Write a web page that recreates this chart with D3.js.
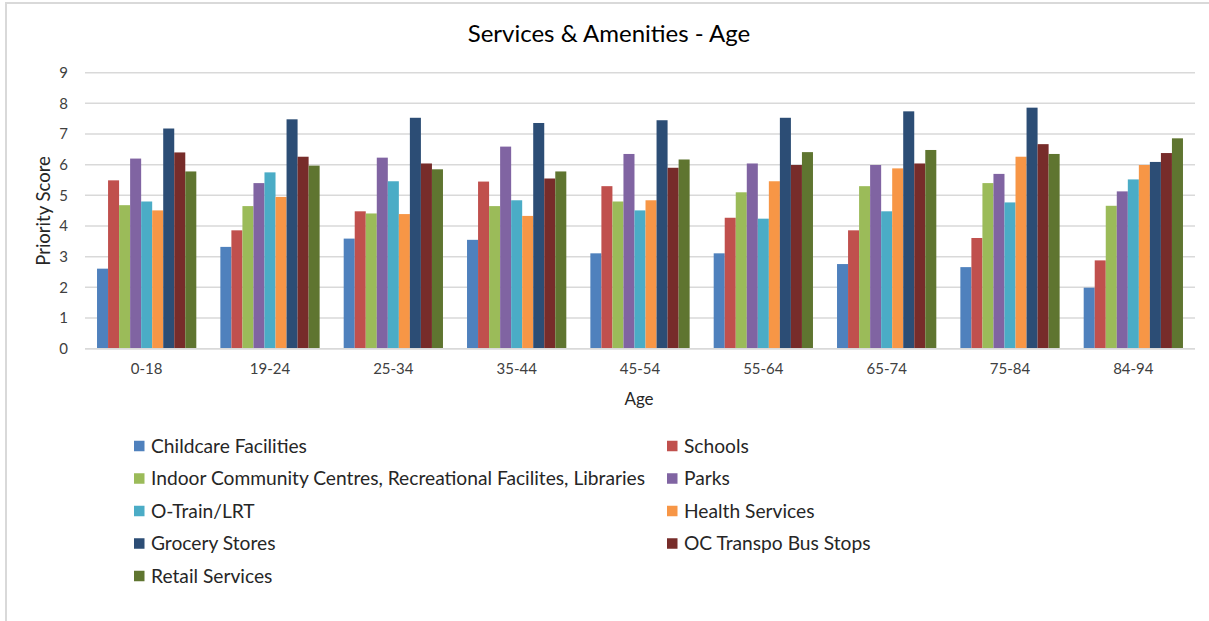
<!DOCTYPE html>
<html>
<head>
<meta charset="utf-8">
<script src="https://cdn.jsdelivr.net/npm/d3@7"></script>
<style>
  html, body { margin: 0; padding: 0; background: #fff; }
  svg { display: block; font-family: Lato, "Open Sans", sans-serif; }
</style>
</head>
<body>
<svg id="chart" width="1209" height="621"></svg>
<script>
// Age groups along the x axis
const ageGroups = ["0-18", "19-24", "25-34", "35-44", "45-54", "55-64", "65-74", "75-84", "84-94"];

// Service categories (legend order) and their colours
const services = [
  "Childcare Facilities",
  "Schools",
  "Indoor Community Centres, Recreational Facilites, Libraries",
  "Parks",
  "O-Train/LRT",
  "Health Services",
  "Grocery Stores",
  "OC Transpo Bus Stops",
  "Retail Services"
];
const colors = ["#4f81bd", "#c0504d", "#9bbb59", "#8064a2", "#4bacc6", "#f79646", "#2c4d75", "#772c2a", "#5f7530"];

// Priority score per service, one value per age group
const childcare  = [2.61, 3.32, 3.59, 3.55, 3.11, 3.11, 2.76, 2.66, 1.99];
const schools    = [5.49, 3.86, 4.48, 5.45, 5.30, 4.27, 3.86, 3.61, 2.88];
const indoor     = [4.68, 4.65, 4.41, 4.65, 4.80, 5.10, 5.30, 5.40, 4.66];
const parks      = [6.20, 5.40, 6.23, 6.59, 6.35, 6.04, 5.99, 5.70, 5.13];
const oTrain     = [4.80, 5.75, 5.46, 4.84, 4.51, 4.24, 4.48, 4.77, 5.52];
const health     = [4.51, 4.95, 4.39, 4.33, 4.84, 5.46, 5.88, 6.26, 5.99];
const grocery    = [7.18, 7.48, 7.53, 7.36, 7.45, 7.53, 7.74, 7.86, 6.09];
const busStops   = [6.40, 6.26, 6.04, 5.55, 5.90, 5.99, 6.04, 6.67, 6.38];
const retail     = [5.78, 5.97, 5.85, 5.78, 6.17, 6.41, 6.48, 6.35, 6.86];

const seriesValues = [childcare, schools, indoor, parks, oTrain, health, grocery, busStops, retail];
const yTicks = [0, 1, 2, 3, 4, 5, 6, 7, 8, 9];

const svg = d3.select("#chart");
const W = 1209, H = 621;

// frame
svg.append("rect").attr("width", W).attr("height", H).attr("fill", "#fff");
svg.append("path")
  .attr("d", `M6,${H + 2} V3 H${W + 2}`)
  .attr("fill", "none").attr("stroke", "#d9d9d9").attr("stroke-width", 2);

const plot = { left: 85, right: 1195, top: 72.7, bottom: 348.7 };

const x0 = d3.scaleBand().domain(ageGroups).range([plot.left, plot.right]).paddingInner(0.195).paddingOuter(0.0975);
const x1 = d3.scaleBand().domain(d3.range(services.length)).range([0, x0.bandwidth()]);
const y = d3.scaleLinear().domain([0, 9]).range([plot.bottom, plot.top]);

// gridlines
svg.append("g").selectAll("line").data(yTicks).join("line")
  .attr("x1", plot.left).attr("x2", plot.right)
  .attr("y1", d => y(d)).attr("y2", d => y(d))
  .attr("stroke", "#d9d9d9").attr("stroke-width", 1.5);

// y axis labels
const yAxis = svg.append("g").attr("transform", `translate(${plot.left},0)`)
  .call(d3.axisLeft(y).tickValues(yTicks).tickSize(0).tickPadding(17).tickFormat(d3.format("d")));
yAxis.select(".domain").remove();
yAxis.selectAll("text").attr("font-family", "Lato, sans-serif").attr("font-size", 15).attr("fill", "#404040");

// bars
const groups = svg.append("g").selectAll("g").data(ageGroups).join("g")
  .attr("transform", d => `translate(${x0(d)},0)`);
groups.selectAll("rect")
  .data((d, gi) => seriesValues.map((vals, si) => ({ si, v: vals[gi] })))
  .join("rect")
  .attr("x", d => x1(d.si))
  .attr("width", x1.bandwidth())
  .attr("y", d => y(d.v))
  .attr("height", d => y(0) - y(d.v))
  .attr("fill", d => colors[d.si]);

// baseline
svg.append("line").attr("x1", plot.left).attr("x2", plot.right)
  .attr("y1", y(0)).attr("y2", y(0)).attr("stroke", "#d9d9d9").attr("stroke-width", 1.5);

// x axis labels
const xAxis = svg.append("g").attr("transform", `translate(0,${plot.bottom})`)
  .call(d3.axisBottom(x0).tickSize(0).tickPadding(15));
xAxis.select(".domain").remove();
xAxis.selectAll("text").attr("font-family", "Lato, sans-serif").attr("font-size", 15).attr("fill", "#404040");

// titles
svg.append("text").attr("x", 609).attr("y", 42).attr("text-anchor", "middle")
  .attr("font-size", 24).attr("fill", "#000").text("Services & Amenities - Age");
svg.append("text").attr("x", 639).attr("y", 405).attr("text-anchor", "middle")
  .attr("font-size", 17).attr("fill", "#262626").text("Age");
svg.append("text").attr("transform", "translate(50,211) rotate(-90)").attr("text-anchor", "middle")
  .attr("font-size", 18.5).attr("fill", "#262626").text("Priority Score");

// legend: two columns, filled row by row
const legend = svg.append("g");
const legendItems = legend.selectAll("g").data(services).join("g")
  .attr("transform", (d, i) => `translate(${i % 2 === 0 ? 134 : 667},${446 + Math.floor(i / 2) * 32.5})`);
legendItems.append("rect").attr("x", 0).attr("y", -5.25).attr("width", 10.5).attr("height", 10.5)
  .attr("fill", (d, i) => colors[i]);
legendItems.append("text").attr("x", 17).attr("y", 0).attr("dy", "0.35em")
  .attr("font-size", 19.2).attr("fill", "#262626").text(d => d);
</script>
</body>
</html>
